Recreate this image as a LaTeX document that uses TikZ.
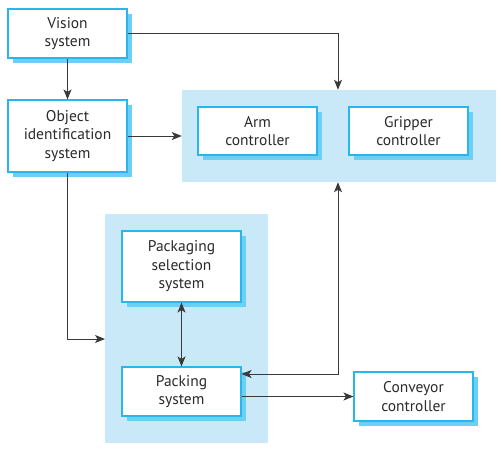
\documentclass[tikz,border=0pt]{standalone}
\usepackage{fontspec}
\setmainfont{PT Sans}
\usetikzlibrary{arrows.meta,shadows,fit}
\definecolor{boxc}{HTML}{29B6EC}
\definecolor{shadc}{HTML}{6CCFF6}
\definecolor{bgc}{HTML}{C9E9F8}
\definecolor{linec}{HTML}{3A3A3A}
\definecolor{txtc}{HTML}{2B2B2B}
\tikzset{
  box/.style={draw=boxc, line width=1.1pt, fill=white, minimum width=119pt, align=center,
    text=txtc, font=\fontsize{15.5}{18.5}\selectfont, inner sep=0pt,
    drop shadow={shadow xshift=5pt, shadow yshift=-5pt, fill=shadc, opacity=1}},
  grp/.style={fill=bgc, draw=none, inner sep=0pt},
  arr/.style={draw=linec, line width=1pt, -{Stealth[length=10pt,width=8pt,inset=2.5pt]}},
  arrb/.style={draw=linec, line width=1pt, {Stealth[length=10pt,width=8pt,inset=2.5pt]}-{Stealth[length=10pt,width=8pt,inset=2.5pt]}}
}
\begin{document}
\begin{tikzpicture}[x=1pt,y=-1pt]
\useasboundingbox (0,0) rectangle (501,450);
\coordinate (g1a) at (182,90);
\coordinate (g1b) at (496,182);
\coordinate (g2a) at (105,214);
\coordinate (g2b) at (268,443);
\node[grp, fit=(g1a)(g1b)] (armgrp) {};
\node[grp, fit=(g2a)(g2b)] (packgrp) {};
\node[box, minimum height=49pt] (vision) at (67.5,33.5) {Vision\\system};
\node[box, minimum height=72pt] (object) at (67.5,136) {Object\\identification\\system};
\node[box, minimum height=48pt] (arm) at (257.5,131) {Arm\\controller};
\node[box, minimum height=48pt] (gripper) at (408.5,131) {Gripper\\controller};
\node[box, minimum height=71pt] (packsel) at (181.5,266.5) {Packaging\\selection\\system};
\node[box, minimum height=49pt] (packing) at (181.5,391.5) {Packing\\system};
\node[box, minimum height=49pt] (conveyor) at (413.5,396.5) {Conveyor\\controller};
\coordinate (ax) at (338,0);
\coordinate (pin) at (105,339);
\coordinate (pk) at (0,374);
\draw[arr] (vision.east) -| (ax |- armgrp.north);
\draw[arr] (vision.south) -- (object.north);
\draw[arr] (object.east) -- (armgrp.west |- object.east);
\draw[arr] (object.south) |- (pin);
\draw[arrb] (packsel.south) -- (packing.north);
\draw[arrb] (ax |- armgrp.south) |- (packing.east |- pk);
\draw[arr] (packing.east |- conveyor.west) -- (conveyor.west);
\end{tikzpicture}
\end{document}
